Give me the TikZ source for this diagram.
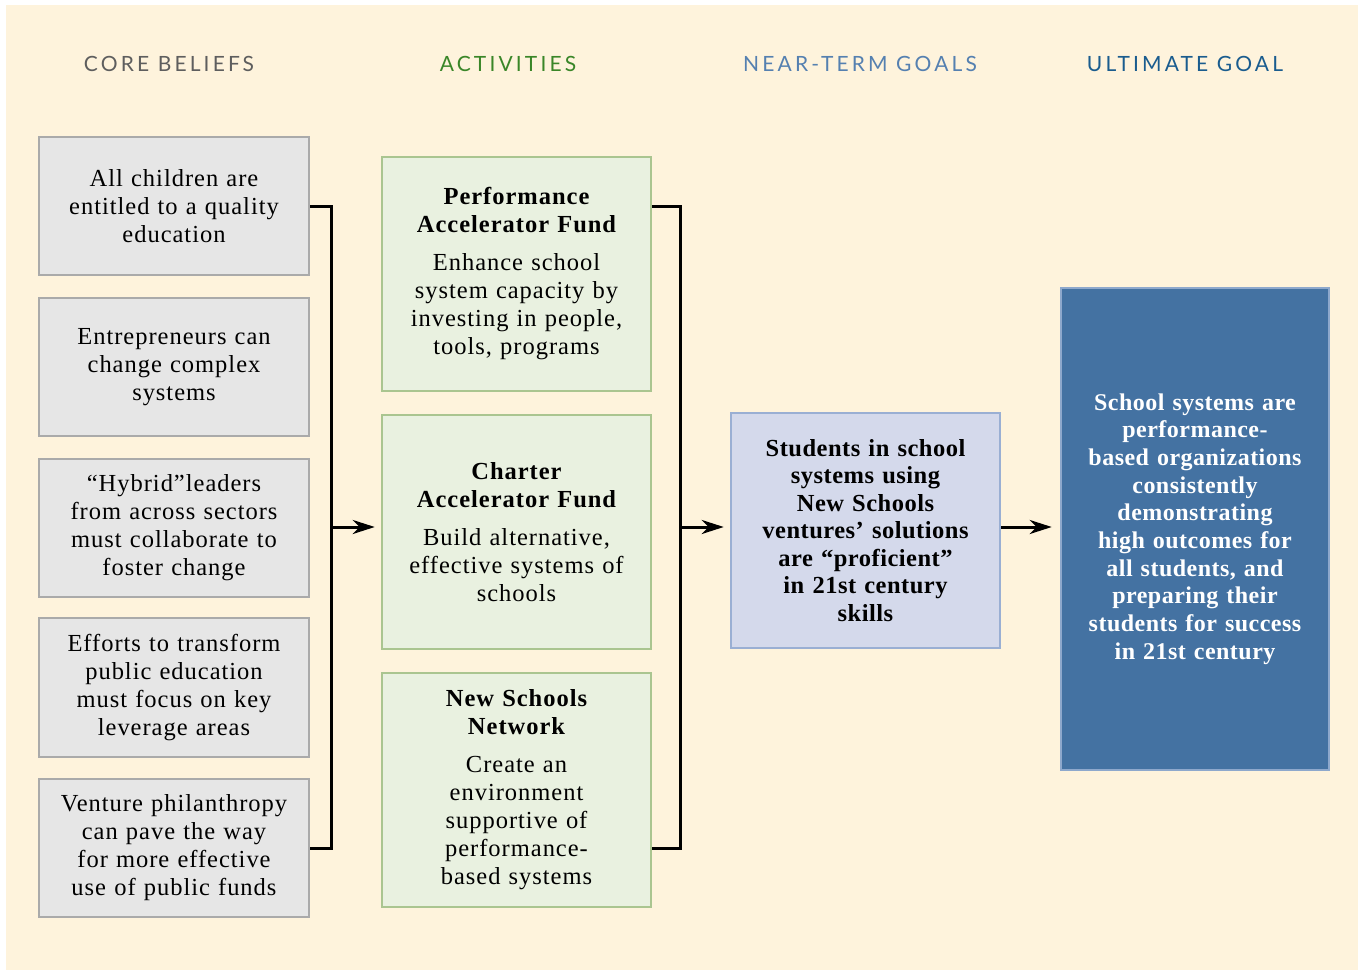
\documentclass[tikz,border=0pt]{standalone}
\usepackage{fontspec}
\setmainfont{Liberation Serif}
\newfontfamily\hdrfont[LetterSpace=15]{Lato}
\newfontfamily\bodyfont[LetterSpace=4]{Liberation Serif}
\newfontfamily\boldfont[LetterSpace=2]{Liberation Serif}
\usetikzlibrary{arrows.meta}
\definecolor{bgcream}{HTML}{FEF3DC}
\definecolor{grayfill}{HTML}{E6E6E6}
\definecolor{grayline}{HTML}{AAAAAA}
\definecolor{greenfill}{HTML}{E9F1E0}
\definecolor{greenline}{HTML}{AAC590}
\definecolor{bluefill}{HTML}{D4D9EB}
\definecolor{blueline}{HTML}{9AAFD3}
\definecolor{darkfill}{HTML}{4472A2}
\definecolor{darkline}{HTML}{8EA8CC}
\definecolor{hgray}{HTML}{5E5E5E}
\definecolor{hgreen}{HTML}{3A8628}
\definecolor{hblue}{HTML}{5580B0}
\definecolor{hdark}{HTML}{1A5C8E}
\tikzset{
  hdr/.style={font=\hdrfont\fontsize{21}{24}\selectfont, anchor=center},
  beliefbox/.style={draw=grayline, fill=grayfill, line width=2.5pt, minimum width=270pt, minimum height=138pt, text width=260pt, align=center, inner sep=0pt, font=\bodyfont\fontsize{24.5}{28}\selectfont},
  actbox/.style={draw=greenline, fill=greenfill, line width=2.5pt, minimum width=269pt, minimum height=234pt, text width=260pt, align=center, inner sep=0pt, font=\bodyfont\fontsize{24.5}{28}\selectfont},
  nearbox/.style={draw=blueline, fill=bluefill, line width=2.5pt, minimum width=269pt, minimum height=235pt, text width=260pt, align=center, inner sep=0pt, font=\boldfont\bfseries\fontsize{24.5}{27.5}\selectfont},
  ultbox/.style={draw=darkline, fill=darkfill, line width=2.5pt, minimum width=268pt, minimum height=482pt, text width=260pt, align=center, inner sep=0pt, text=white, font=\boldfont\bfseries\fontsize{24}{27.7}\selectfont},
  conn/.style={line width=3pt, black},
  arr/.style={line width=3pt, black, -{Stealth[length=22pt,width=14pt,inset=7pt]}},
}
\newcommand{\acttitle}[1]{{\bfseries #1}\par\vspace{10pt}}
\begin{document}
\begin{tikzpicture}[x=1pt,y=-1pt]
\useasboundingbox (0,0) rectangle (1363,974);
\fill[white] (0,0) rectangle (1363,974);
\fill[bgcream] (6,5) rectangle (1358,970);

\node[hdr, text=hgray] (h1) at (169,64) {CORE BELIEFS};
\node[hdr, text=hgreen] (h2) at (508,64) {ACTIVITIES};
\node[hdr, text=hblue] (h3) at (860,64) {NEAR-TERM GOALS};
\node[hdr, text=hdark] (h4) at (1185,64) {ULTIMATE GOAL};

\node[beliefbox] (b1) at (174,206) {All children are\\entitled to a quality\\education};
\node[beliefbox] (b2) at (174,367) {Entrepreneurs can\\change complex\\systems};
\node[beliefbox] (b3) at (174,528) {“Hybrid”leaders\\from across sectors\\must collaborate to\\foster change};
\node[beliefbox, minimum height=139pt] (b4) at (174,687.5) {Efforts to transform\\public education\\must focus on key\\leverage areas};
\node[beliefbox] (b5) at (174,848) {Venture philanthropy\\can pave the way\\for more effective\\use of public funds};

\node[actbox] (a1) at (516.5,274) {\acttitle{Performance\\Accelerator Fund}Enhance school\\system capacity by\\investing in people,\\tools, programs};
\node[actbox] (a2) at (516.5,532) {\acttitle{Charter\\Accelerator Fund}Build alternative,\\effective systems of\\schools};
\node[actbox] (a3) at (516.5,790) {\acttitle{New Schools\\Network}Create an\\environment\\supportive of\\performance-\\based systems};

\node[nearbox] (n1) at (865.5,530.5) {Students in school\\systems using\\New Schools\\ventures’ solutions\\are “proficient”\\in 21st century\\skills};

\node[ultbox] (u1) at (1195,529) {School systems are\\performance-\\based organizations\\consistently\\demonstrating\\high outcomes for\\all students, and\\preparing their\\students for success\\in 21st century};

\coordinate (j1) at (331,527);
\coordinate (j2) at (680,527);
\draw[conn] (b1.east) -| (j1) |- (b5.east);
\draw[arr, shorten >=6pt] (j1) -- (j1 -| a2.west);
\draw[conn] (a1.east |- b1.east) -| (j2) |- (a3.east |- b5.east);
\draw[arr, shorten >=6pt] (j2) -- (j2 -| n1.west);
\draw[arr, shorten >=8pt] (j2 -| n1.east) -- (j2 -| u1.west);
\end{tikzpicture}
\end{document}
